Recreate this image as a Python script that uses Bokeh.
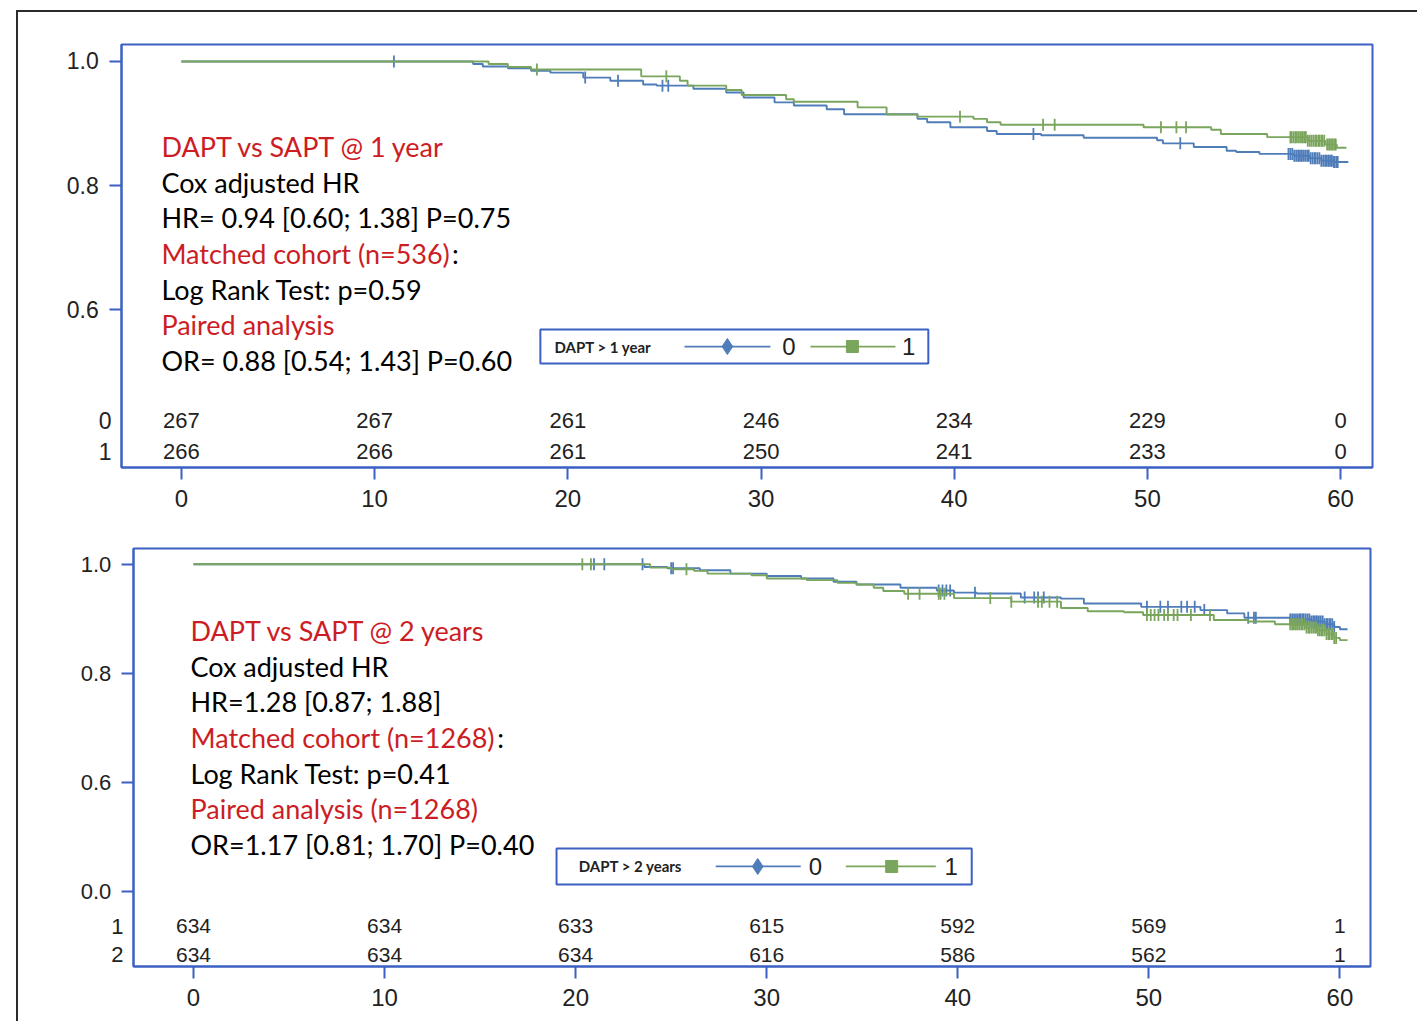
import numpy as np
from bokeh.plotting import figure
from bokeh.models import FixedTicker
from bokeh.core.properties import value
from bokeh.embed import file_html
from bokeh.resources import INLINE

# ---------------- data ----------------
risk_times = [0, 10, 20, 30, 40, 50, 60]
top_risk_0 = [267, 267, 261, 246, 234, 229, 0]
top_risk_1 = [266, 266, 261, 250, 241, 233, 0]
bot_risk_1 = [634, 634, 633, 615, 592, 569, 1]
bot_risk_2 = [634, 634, 634, 616, 586, 562, 1]

# top panel: DAPT > 1 year, group 0 (blue) and group 1 (green)
top_t_0 = [0, 15.1, 15.6, 16.9, 18.1, 19.1, 20.8, 22.2, 23.9, 24.6, 26.5, 28.2, 29.1, 30.7, 31.7,
           33.4, 34.3, 38.1, 38.6, 39.8, 41.7, 42.2, 44.5, 46.7, 50.5, 50.8, 52.4, 54.1, 54.6,
           55.8, 57.6, 58.4, 59.0, 59.6, 60.4]
top_s_0 = [1.0, 0.996, 0.992, 0.989, 0.985, 0.982, 0.974, 0.969, 0.963, 0.961, 0.956, 0.950, 0.942,
           0.934, 0.929, 0.923, 0.915, 0.9075, 0.902, 0.894, 0.888, 0.883, 0.881, 0.877, 0.873,
           0.868, 0.862, 0.856, 0.854, 0.851, 0.848, 0.844, 0.840, 0.838, 0.838]
top_t_1 = [0, 15.9, 16.9, 18.1, 23.8, 25.8, 26.2, 28.2, 29.0, 31.3, 31.7, 35.0, 36.5, 38.1, 41.0,
           41.7, 42.4, 49.8, 53.3, 53.8, 56.2, 58.3, 59.2, 59.8, 60.3]
top_s_1 = [1.0, 0.996, 0.991, 0.987, 0.976, 0.969, 0.961, 0.954, 0.946, 0.939, 0.935, 0.926, 0.9145,
           0.911, 0.9075, 0.902, 0.898, 0.894, 0.890, 0.883, 0.878, 0.872, 0.866, 0.861, 0.861]
top_cens_0 = [11.0, 20.9, 22.6, 24.9, 25.2, 44.1, 51.7, 57.3, 57.4, 57.5, 57.6, 57.7, 57.8, 57.85,
              57.95, 58.0, 58.1, 58.2, 58.3, 58.35, 58.45, 58.55, 58.65, 58.7, 58.8, 58.9, 59.0,
              59.1, 59.2, 59.25, 59.35, 59.4, 59.5, 59.55, 59.65, 59.7, 59.8, 59.85]
top_cens_1 = [18.4, 25.1, 40.3, 44.6, 45.2, 50.7, 51.5, 52.0, 57.4, 57.45, 57.55, 57.65, 57.7,
              57.8, 57.9, 58.0, 58.05, 58.15, 58.2, 58.3, 58.4, 58.5, 58.6, 58.7, 58.75, 58.85,
              58.9, 59.0, 59.05, 59.15, 59.3, 59.4, 59.45, 59.55, 59.6, 59.7, 59.75]

# bottom panel: DAPT > 2 years
bot_t_0 = [0, 23.6, 24.8, 26.5, 28.1, 30.0, 31.8, 33.5, 34.7, 37.0, 38.9, 39.8, 41.0, 43.3, 45.4,
           46.6, 49.6, 52.7, 54.1, 55.0, 57.4, 58.5, 59.2, 59.7, 60.0, 60.4]
bot_s_0 = [1.0, 0.995, 0.9927, 0.989, 0.983, 0.9786, 0.974, 0.968, 0.963, 0.957, 0.952, 0.948,
           0.9465, 0.939, 0.937, 0.928, 0.922, 0.916, 0.910, 0.902, 0.899, 0.895, 0.890, 0.885,
           0.881, 0.881]
bot_t_1 = [0, 23.9, 25.0, 26.2, 26.9, 29.2, 30.0, 32.1, 33.7, 34.7, 35.6, 36.1, 37.2, 39.8, 42.8,
           45.4, 46.8, 48.7, 49.7, 53.4, 55.2, 56.6, 58.2, 58.8, 59.3, 59.7, 60.0, 60.4]
bot_s_1 = [1.0, 0.994, 0.991, 0.988, 0.983, 0.980, 0.974, 0.971, 0.966, 0.963, 0.957, 0.951, 0.946,
           0.938, 0.9315, 0.920, 0.914, 0.912, 0.907, 0.898, 0.895, 0.890, 0.884, 0.879, 0.872,
           0.865, 0.861, 0.861]
bot_cens_0 = [20.96, 21.5, 23.5, 25.0, 25.1, 39.0, 39.2, 39.4, 39.6, 40.9, 43.5, 44.0, 44.2, 44.5,
              49.9, 50.6, 51.0, 51.7, 52.0, 52.4, 52.9, 55.2, 55.5, 55.6, 57.4, 57.5, 57.6, 57.7,
              57.8, 57.9, 57.95, 58.05, 58.1, 58.2, 58.3, 58.4, 58.5, 58.6, 58.65, 58.75, 58.8,
              58.9, 59.0, 59.1, 59.2, 59.3, 59.35, 59.45, 59.5, 59.6, 59.7]
bot_cens_1 = [20.35, 20.8, 25.8, 37.4, 38.0, 39.0, 39.1, 39.3, 41.7, 42.8, 44.2, 44.4, 44.8, 45.2,
              49.9, 50.1, 50.3, 50.5, 50.8, 51.0, 51.3, 51.5, 52.2, 53.2, 57.4, 57.5, 57.55, 57.65,
              57.7, 57.8, 57.9, 58.0, 58.05, 58.15, 58.25, 58.35, 58.4, 58.5, 58.6, 58.7, 58.75,
              58.85, 58.95, 59.05, 59.1, 59.2, 59.3, 59.4, 59.45, 59.55, 59.6, 59.7, 59.8]

top_text = ["DAPT vs SAPT @ 1 year", "Cox adjusted HR", "HR= 0.94 [0.60; 1.38] P=0.75",
            "Matched cohort (n=536)", "Log Rank Test: p=0.59", "Paired analysis",
            "OR= 0.88 [0.54; 1.43] P=0.60"]
bot_text = ["DAPT vs SAPT @ 2 years", "Cox adjusted HR", "HR=1.28 [0.87; 1.88]",
            "Matched cohort (n=1268)", "Log Rank Test: p=0.41", "Paired analysis (n=1268)",
            "OR=1.17 [0.81; 1.70] P=0.40"]
text_is_red = [True, False, False, True, False, True, False]

# ---------------- style ----------------
FRAME = "#3c60c4"
BLUE = "#4f7db9"
GREEN = "#7aa55c"
RED = "#cc1d25"
DARK = "#222222"
AXFONT = "Liberation Sans"
TXFONT = "Lato"
PAD = "\u00a0\u00a0"


def cens_y(times, surv, ct):
    idx = np.searchsorted(np.array(times), np.array(ct), side="right") - 1
    return np.array(surv)[idx]


def make_panel(width, height, borders, xr, yr, yticks, ynames, ylab_size,
               row_ticks, row_names, row_standoff):
    p = figure(width=width, height=height, x_range=xr, y_range=yr,
               output_backend="svg", toolbar_location=None,
               min_border_left=borders[0], min_border_right=borders[1],
               min_border_top=borders[2], min_border_bottom=borders[3])
    p.grid.visible = False
    p.outline_line_color = FRAME
    p.outline_line_width = 2
    p.background_fill_color = "white"
    p.border_fill_color = "white"
    for ax in (p.xaxis[0], p.yaxis[0]):
        ax.axis_line_color = FRAME
        ax.axis_line_width = 2
        ax.major_label_text_color = DARK
        ax.major_label_text_font = AXFONT
    # x axis
    xa = p.xaxis[0]
    xa.ticker = FixedTicker(ticks=risk_times)
    xa.major_tick_line_color = FRAME
    xa.major_tick_line_width = 2
    xa.major_tick_out = 12
    xa.major_tick_in = 0
    xa.minor_tick_line_color = None
    xa.major_label_text_font_size = "24px"
    xa.major_label_standoff = 10
    # y axis: survival ticks get tick marks (drawn as minor ticks), the
    # number-at-risk row names are labels only
    ya = p.yaxis[0]
    ya.ticker = FixedTicker(ticks=list(yticks) + list(row_ticks), minor_ticks=list(yticks))
    over = {t: n + PAD for t, n in zip(yticks, ynames)}
    over.update(dict(zip(row_ticks, row_names)))
    ya.major_label_overrides = over
    ya.major_tick_line_color = None
    ya.major_tick_out = 0
    ya.major_tick_in = 0
    ya.minor_tick_line_color = FRAME
    ya.minor_tick_line_width = 2
    ya.minor_tick_out = 12
    ya.minor_tick_in = 0
    ya.major_label_text_font_size = ylab_size
    ya.major_label_standoff = row_standoff
    return p


def draw_panel(p, t0, s0, t1, s1, c0, c1, risk_a, risk_b, ra_y, rb_y,
               lines, line_y, text_x, colon_x, risk_size, legend):
    p.step(t0, s0, mode="after", line_color=BLUE, line_width=1.9)
    p.scatter(c0, cens_y(t0, s0, c0), marker="dash", angle=np.pi / 2, size=12,
              line_color=BLUE, line_width=1.8)
    p.step(t1, s1, mode="after", line_color=GREEN, line_width=1.9)
    p.scatter(c1, cens_y(t1, s1, c1), marker="dash", angle=np.pi / 2, size=12,
              line_color=GREEN, line_width=1.8)
    for vals, yy in ((risk_a, ra_y), (risk_b, rb_y)):
        p.text(risk_times, [yy] * len(risk_times), text=[str(v) for v in vals],
               text_align="center", text_baseline="middle", text_color=DARK,
               text_font=value(AXFONT), text_font_size=risk_size)
    cols = [RED if r else "black" for r in text_is_red]
    p.text([text_x] * len(lines), line_y, text=lines, text_color=cols,
           text_align="left", text_baseline="middle", text_font=value(TXFONT),
           text_font_size="27px")
    p.text([colon_x], [line_y[3]], text=[":"], text_color="black", text_align="left",
           text_baseline="middle", text_font=value(TXFONT), text_font_size="27px")
    (l, r, b, t, title, tx, bl0, bl1, dm, lab0, gl0, gl1, sq, lab1) = legend
    cy = (b + t) / 2
    p.quad(left=[l], right=[r], bottom=[b], top=[t], fill_color="white",
           line_color=FRAME, line_width=2)
    p.text([tx], [cy], text=[title], text_font=value(TXFONT), text_font_style="bold",
           text_font_size="15px", text_baseline="middle", text_color=DARK)
    p.line([bl0, bl1], [cy, cy], line_color=BLUE, line_width=1.8)
    p.scatter([dm], [cy], marker="diamond", size=16, fill_color=BLUE, line_color=BLUE)
    p.text([lab0], [cy], text=["0"], text_font=value(AXFONT), text_font_size="24px",
           text_baseline="middle", text_color=DARK)
    p.line([gl0, gl1], [cy, cy], line_color=GREEN, line_width=1.8)
    p.scatter([sq], [cy], marker="square", size=12, fill_color=GREEN, line_color=GREEN)
    p.text([lab1], [cy], text=["1"], text_font=value(AXFONT), text_font_size="24px",
           text_baseline="middle", text_color=DARK)


# ---------------- top panel ----------------
p1 = make_panel(1401, 520, (103, 47, 32, 65), (-3.1, 61.65), (0.3452, 1.0274),
                [0.6, 0.8, 1.0], ["0.6", "0.8", "1.0"], "23px",
                [0.421, 0.371], ["0", "1"], -2)
draw_panel(p1, top_t_0, top_s_0, top_t_1, top_s_1, top_cens_0, top_cens_1,
           top_risk_0, top_risk_1, 0.421, 0.371,
           top_text, [0.8629, 0.8048, 0.7484, 0.6903, 0.6323, 0.5758, 0.5177],
           -1.035, 14.0, "22px",
           (18.58, 38.66, 0.5129, 0.5677, "DAPT > 1 year", 19.31,
            26.04, 30.49, 28.26, 31.1, 32.56, 36.96, 34.73, 37.3))
p1.margin = (10, 0, 0, 16)
p1.styles = {"border-left": "2px solid #2b2b2b", "border-top": "2px solid #2b2b2b"}

# ---------------- bottom panel ----------------
p2 = make_panel(1401, 491, (115, 49, 18, 55), (-3.14, 61.6), (0.2624, 1.029),
                [0.4, 0.6, 0.8, 1.0], ["0.0", "0.6", "0.8", "1.0"], "22px",
                [0.3358, 0.2844], ["1", "2"], -2)
draw_panel(p2, bot_t_0, bot_s_0, bot_t_1, bot_s_1, bot_cens_0, bot_cens_1,
           bot_risk_1, bot_risk_2, 0.3358, 0.2844,
           bot_text, [0.8789, 0.8128, 0.7486, 0.6826, 0.6165, 0.5523, 0.4862],
           -0.157, 15.9, "21px",
           (19.0, 40.73, 0.4128, 0.4789, "DAPT > 2 years", 20.16,
            27.33, 31.78, 29.53, 32.2, 34.14, 38.85, 36.54, 39.3))
p2.margin = (0, 0, 0, 16)
p2.styles = {"border-left": "2px solid #2b2b2b"}

open("out.html", "w").write(file_html([p1, p2], INLINE))
